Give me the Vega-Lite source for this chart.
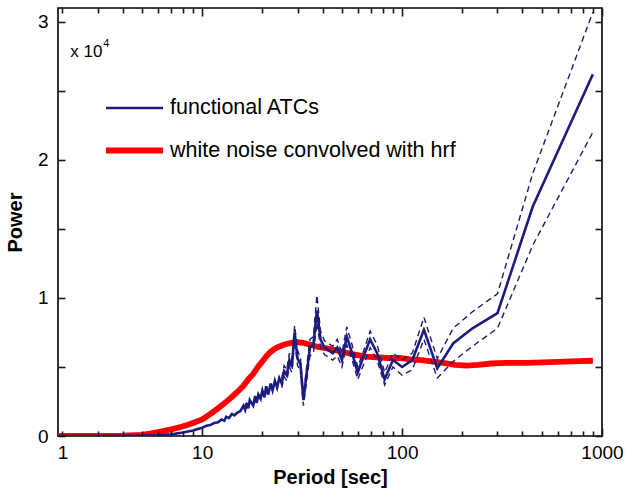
{
  "$schema": "https://vega.github.io/schema/vega-lite/v6.json",
  "width": 544,
  "height": 428,
  "autosize": "none",
  "padding": {"left": 58, "top": 8, "right": 24, "bottom": 58},
  "background": "white",
  "config": {
    "font": "Liberation Sans",
    "view": {"stroke": "black", "strokeWidth": 1.6}
  },
  "data": {
    "values": [
      {"series": "noise", "period": 1.9, "power": 0},
      {"series": "noise", "period": 3, "power": 0},
      {"series": "noise", "period": 4, "power": 0.002},
      {"series": "noise", "period": 5, "power": 0.008},
      {"series": "noise", "period": 5.5, "power": 0.018},
      {"series": "noise", "period": 6, "power": 0.028},
      {"series": "noise", "period": 7, "power": 0.048},
      {"series": "noise", "period": 7.8, "power": 0.065},
      {"series": "noise", "period": 8.5, "power": 0.082},
      {"series": "noise", "period": 9.2, "power": 0.1},
      {"series": "noise", "period": 10, "power": 0.12},
      {"series": "noise", "period": 11, "power": 0.16},
      {"series": "noise", "period": 12, "power": 0.2},
      {"series": "noise", "period": 13, "power": 0.24},
      {"series": "noise", "period": 14, "power": 0.28},
      {"series": "noise", "period": 15, "power": 0.32},
      {"series": "noise", "period": 16, "power": 0.36},
      {"series": "noise", "period": 17, "power": 0.41},
      {"series": "noise", "period": 18, "power": 0.45},
      {"series": "noise", "period": 19, "power": 0.5},
      {"series": "noise", "period": 20, "power": 0.54},
      {"series": "noise", "period": 21, "power": 0.58},
      {"series": "noise", "period": 22, "power": 0.61},
      {"series": "noise", "period": 23, "power": 0.63},
      {"series": "noise", "period": 24, "power": 0.645},
      {"series": "noise", "period": 26, "power": 0.665},
      {"series": "noise", "period": 28, "power": 0.675},
      {"series": "noise", "period": 30, "power": 0.68},
      {"series": "noise", "period": 32, "power": 0.675},
      {"series": "noise", "period": 34, "power": 0.665},
      {"series": "noise", "period": 36, "power": 0.655},
      {"series": "noise", "period": 38, "power": 0.645},
      {"series": "noise", "period": 42, "power": 0.635},
      {"series": "noise", "period": 47, "power": 0.62},
      {"series": "noise", "period": 52, "power": 0.605},
      {"series": "noise", "period": 58, "power": 0.59},
      {"series": "noise", "period": 66, "power": 0.575},
      {"series": "noise", "period": 75, "power": 0.57},
      {"series": "noise", "period": 85, "power": 0.565},
      {"series": "noise", "period": 97, "power": 0.565},
      {"series": "noise", "period": 110, "power": 0.555},
      {"series": "noise", "period": 125, "power": 0.55},
      {"series": "noise", "period": 140, "power": 0.54},
      {"series": "noise", "period": 160, "power": 0.53},
      {"series": "noise", "period": 185, "power": 0.515},
      {"series": "noise", "period": 210, "power": 0.51},
      {"series": "noise", "period": 240, "power": 0.515},
      {"series": "noise", "period": 280, "power": 0.525},
      {"series": "noise", "period": 330, "power": 0.53},
      {"series": "noise", "period": 420, "power": 0.53},
      {"series": "noise", "period": 550, "power": 0.535},
      {"series": "noise", "period": 700, "power": 0.54},
      {"series": "noise", "period": 900, "power": 0.545},

      {"series": "atc", "period": 900, "power": 2.62, "lower": 2.2, "upper": 3.07},
      {"series": "atc", "period": 450, "power": 1.66, "lower": 1.38, "upper": 1.9},
      {"series": "atc", "period": 300, "power": 0.89, "lower": 0.78, "upper": 1.03},
      {"series": "atc", "period": 225, "power": 0.78, "lower": 0.65, "upper": 0.9},
      {"series": "atc", "period": 180, "power": 0.67, "lower": 0.54, "upper": 0.78},
      {"series": "atc", "period": 150, "power": 0.49, "lower": 0.42, "upper": 0.56},
      {"series": "atc", "period": 128.6, "power": 0.77, "lower": 0.7, "upper": 0.86},
      {"series": "atc", "period": 112.5, "power": 0.55, "lower": 0.48, "upper": 0.6},
      {"series": "atc", "period": 100, "power": 0.5, "lower": 0.44, "upper": 0.55},
      {"series": "atc", "period": 90, "power": 0.55, "lower": 0.5, "upper": 0.6},
      {"series": "atc", "period": 81.8, "power": 0.41, "lower": 0.37, "upper": 0.46},
      {"series": "atc", "period": 75, "power": 0.6, "lower": 0.55, "upper": 0.66},
      {"series": "atc", "period": 69.2, "power": 0.7, "lower": 0.64, "upper": 0.76},
      {"series": "atc", "period": 64.3, "power": 0.58, "lower": 0.52, "upper": 0.62},
      {"series": "atc", "period": 60, "power": 0.46, "lower": 0.41, "upper": 0.5},
      {"series": "atc", "period": 56.25, "power": 0.6, "lower": 0.55, "upper": 0.66},
      {"series": "atc", "period": 52.9, "power": 0.72, "lower": 0.66, "upper": 0.79},
      {"series": "atc", "period": 50, "power": 0.55, "lower": 0.5, "upper": 0.6},
      {"series": "atc", "period": 47.4, "power": 0.64, "lower": 0.58, "upper": 0.7},
      {"series": "atc", "period": 45, "power": 0.6, "lower": 0.55, "upper": 0.65},
      {"series": "atc", "period": 42.9, "power": 0.62, "lower": 0.57, "upper": 0.67},
      {"series": "atc", "period": 40.9, "power": 0.64, "lower": 0.59, "upper": 0.69},
      {"series": "atc", "period": 39.1, "power": 0.7, "lower": 0.64, "upper": 0.76},
      {"series": "atc", "period": 37.5, "power": 0.91, "lower": 0.82, "upper": 1.02},
      {"series": "atc", "period": 36, "power": 0.66, "lower": 0.6, "upper": 0.72},
      {"series": "atc", "period": 34.6, "power": 0.64, "lower": 0.58, "upper": 0.7},
      {"series": "atc", "period": 33.3, "power": 0.45, "lower": 0.4, "upper": 0.5},
      {"series": "atc", "period": 32.1, "power": 0.26, "lower": 0.22, "upper": 0.3},
      {"series": "atc", "period": 31, "power": 0.52, "lower": 0.47, "upper": 0.57},
      {"series": "atc", "period": 30, "power": 0.56, "lower": 0.51, "upper": 0.62},
      {"series": "atc", "period": 29, "power": 0.75, "lower": 0.69, "upper": 0.8},
      {"series": "atc", "period": 28.1, "power": 0.5, "lower": 0.46, "upper": 0.55},
      {"series": "atc", "period": 27.3, "power": 0.55, "lower": 0.5, "upper": 0.6},
      {"series": "atc", "period": 26.5, "power": 0.44, "lower": 0.4, "upper": 0.48},
      {"series": "atc", "period": 25.7, "power": 0.47, "lower": 0.43, "upper": 0.51},
      {"series": "atc", "period": 25, "power": 0.38, "lower": 0.35, "upper": 0.42},
      {"series": "atc", "period": 24.3, "power": 0.42},
      {"series": "atc", "period": 23.7, "power": 0.35},
      {"series": "atc", "period": 23.1, "power": 0.4},
      {"series": "atc", "period": 22.5, "power": 0.33},
      {"series": "atc", "period": 22, "power": 0.38},
      {"series": "atc", "period": 21.4, "power": 0.3},
      {"series": "atc", "period": 20.9, "power": 0.36},
      {"series": "atc", "period": 20.5, "power": 0.28},
      {"series": "atc", "period": 20, "power": 0.33},
      {"series": "atc", "period": 19.6, "power": 0.27},
      {"series": "atc", "period": 19.1, "power": 0.3},
      {"series": "atc", "period": 18.75, "power": 0.24},
      {"series": "atc", "period": 18.4, "power": 0.29},
      {"series": "atc", "period": 18, "power": 0.22},
      {"series": "atc", "period": 17.3, "power": 0.26},
      {"series": "atc", "period": 17, "power": 0.2},
      {"series": "atc", "period": 16.7, "power": 0.24},
      {"series": "atc", "period": 16.4, "power": 0.19},
      {"series": "atc", "period": 16.1, "power": 0.22},
      {"series": "atc", "period": 15.5, "power": 0.18},
      {"series": "atc", "period": 15, "power": 0.17},
      {"series": "atc", "period": 14.5, "power": 0.15},
      {"series": "atc", "period": 14.1, "power": 0.16},
      {"series": "atc", "period": 13.6, "power": 0.13},
      {"series": "atc", "period": 13.2, "power": 0.14},
      {"series": "atc", "period": 12.9, "power": 0.11},
      {"series": "atc", "period": 12.5, "power": 0.12},
      {"series": "atc", "period": 12, "power": 0.1},
      {"series": "atc", "period": 11.5, "power": 0.095},
      {"series": "atc", "period": 11, "power": 0.08},
      {"series": "atc", "period": 10.5, "power": 0.075},
      {"series": "atc", "period": 10, "power": 0.06},
      {"series": "atc", "period": 9.5, "power": 0.05},
      {"series": "atc", "period": 9, "power": 0.04},
      {"series": "atc", "period": 8, "power": 0.025},
      {"series": "atc", "period": 7, "power": 0.012},
      {"series": "atc", "period": 6, "power": 0.005},
      {"series": "atc", "period": 5, "power": 0.002},
      {"series": "atc", "period": 3, "power": 0},
      {"series": "atc", "period": 1.9, "power": 0}
    ]
  },
  "layer": [
    {
      "transform": [{"filter": "datum.series == 'noise'"}],
      "mark": {"type": "line", "clip": true},
      "encoding": {
        "x": {"field": "period", "type": "quantitative", "sort": null,
          "scale": {"type": "log", "domain": [1.9, 1000], "nice": false},
          "axis": {"orient": "bottom", "values": [2, 10, 100, 1000], "ticks": false, "domain": false, "grid": false,
            "labelExpr": "datum.value == 2 ? '1' : datum.value == 10 ? '10' : datum.value == 100 ? '100' : '1000'",
            "labelFontSize": 19, "labelColor": "black", "labelPadding": 7, "labelFlush": false, "labelOverlap": false,
            "title": "Period [sec]", "titleColor": "black", "titleFontSize": 20, "titleFontWeight": "bold", "titlePadding": 5}},
        "y": {"field": "power", "type": "quantitative",
          "scale": {"domain": [0, 3.1], "nice": false, "zero": false},
          "axis": {"orient": "left", "values": [0, 0.5, 1, 1.5, 2, 2.5, 3], "offset": -7, "tickSize": 7, "tickColor": "#1a1a1a", "tickWidth": 1.6, "domain": false, "grid": false, "zindex": 1,
            "labelExpr": "datum.value % 1 == 0 ? format(datum.value, 'd') : ''",
            "labelFontSize": 19, "labelColor": "black", "labelPadding": 10, "labelOverlap": false,
            "title": "Power", "titleColor": "black", "titleFontSize": 20, "titleFontWeight": "bold", "titlePadding": 12}},
        "color": {"field": "series", "type": "nominal",
          "scale": {"domain": ["atc", "noise"], "range": ["#1c1c80", "#ff0000"]},
          "legend": {"orient": "none", "legendX": 45, "legendY": 70, "title": null, "symbolType": "stroke", "symbolSize": 3249,
            "labelFontSize": 21.5, "labelOffset": 4, "rowPadding": -11, "labelLimit": 500, "labelColor": "black",
            "labelExpr": "datum.label == 'atc' ? 'functional ATCs' : 'white noise convolved with hrf'"}},
        "strokeWidth": {"field": "series", "type": "nominal",
          "scale": {"domain": ["atc", "noise"], "range": [2.6, 5.8]},
          "legend": {"orient": "none", "legendX": 45, "legendY": 70, "title": null, "symbolType": "stroke", "symbolSize": 3249,
            "labelFontSize": 21.5, "labelOffset": 4, "rowPadding": -11, "labelLimit": 500, "labelColor": "black",
            "labelExpr": "datum.label == 'atc' ? 'functional ATCs' : 'white noise convolved with hrf'"}}
      }
    },
    {
      "transform": [{"filter": "datum.series == 'atc'"}],
      "mark": {"type": "line", "clip": true},
      "encoding": {
        "x": {"field": "period", "type": "quantitative", "sort": null,
          "scale": {"type": "log", "domain": [1.9, 1000], "nice": false},
          "axis": {"orient": "top", "values": [2,3,4,5,6,7,8,9,20,30,40,50,60,70,80,90,200,300,400,500,600,700,800,900],
            "labels": false, "title": null, "tickSize": -5, "tickColor": "#1a1a1a", "tickWidth": 1.6, "domain": false, "grid": false, "zindex": 1}},
        "y": {"field": "power", "type": "quantitative",
          "scale": {"domain": [0, 3.1], "nice": false, "zero": false},
          "axis": {"orient": "right", "values": [0, 0.5, 1, 1.5, 2, 2.5, 3], "labels": false, "title": null, "tickSize": -7, "tickColor": "#1a1a1a", "tickWidth": 1.6, "domain": false, "grid": false, "zindex": 1}},
        "color": {"field": "series", "type": "nominal"},
        "strokeWidth": {"field": "series", "type": "nominal"}
      }
    },
    {
      "transform": [{"filter": "datum.series == 'atc' && isValid(datum.upper)"}],
      "mark": {"type": "line", "clip": true, "color": "#1c1c80", "strokeWidth": 1.4, "strokeDash": [6, 4]},
      "encoding": {
        "x": {"field": "period", "type": "quantitative", "sort": null, "scale": {"type": "log", "domain": [1.9, 1000], "nice": false},
          "axis": {"orient": "top", "values": [10, 100, 1000], "labels": false, "title": null, "tickSize": -8, "tickColor": "#1a1a1a", "tickWidth": 1.6, "domain": false, "grid": false, "zindex": 1}},
        "y": {"field": "upper", "type": "quantitative", "scale": {"domain": [0, 3.1], "nice": false, "zero": false}, "axis": null}
      }
    },
    {
      "transform": [{"filter": "datum.series == 'atc' && isValid(datum.lower)"}],
      "mark": {"type": "line", "clip": true, "color": "#1c1c80", "strokeWidth": 1.4, "strokeDash": [6, 4]},
      "encoding": {
        "x": {"field": "period", "type": "quantitative", "sort": null, "scale": {"type": "log", "domain": [1.9, 1000], "nice": false},
          "axis": {"orient": "bottom", "values": [2,3,4,5,6,7,8,9,20,30,40,50,60,70,80,90,200,300,400,500,600,700,800,900],
            "labels": false, "title": null, "tickSize": -5, "tickColor": "#1a1a1a", "tickWidth": 1.6, "domain": false, "grid": false, "zindex": 1}},
        "y": {"field": "lower", "type": "quantitative", "scale": {"domain": [0, 3.1], "nice": false, "zero": false}, "axis": null}
      }
    },
    {
      "data": {"values": [{}]},
      "mark": {"type": "text", "text": "x 10", "fontSize": 17, "align": "left", "baseline": "alphabetic", "color": "black"},
      "encoding": {
        "x": {"datum": 2.19, "type": "quantitative", "scale": {"type": "log", "domain": [1.9, 1000], "nice": false},
          "axis": {"orient": "bottom", "values": [10, 100, 1000], "labels": false, "title": null, "tickSize": -8, "tickColor": "#1a1a1a", "tickWidth": 1.6, "domain": false, "grid": false, "zindex": 1}},
        "y": {"datum": 2.746, "type": "quantitative", "scale": {"domain": [0, 3.1], "nice": false, "zero": false}, "axis": null}
      }
    },
    {
      "data": {"values": [{}]},
      "mark": {"type": "text", "text": "4", "fontSize": 11, "align": "left", "baseline": "alphabetic", "color": "black"},
      "encoding": {
        "x": {"datum": 3.2, "type": "quantitative", "scale": {"type": "log", "domain": [1.9, 1000], "nice": false}, "axis": null},
        "y": {"datum": 2.82, "type": "quantitative", "scale": {"domain": [0, 3.1], "nice": false, "zero": false}, "axis": null}
      }
    }
  ],
  "resolve": {"axis": {"x": "independent", "y": "independent"}}
}
